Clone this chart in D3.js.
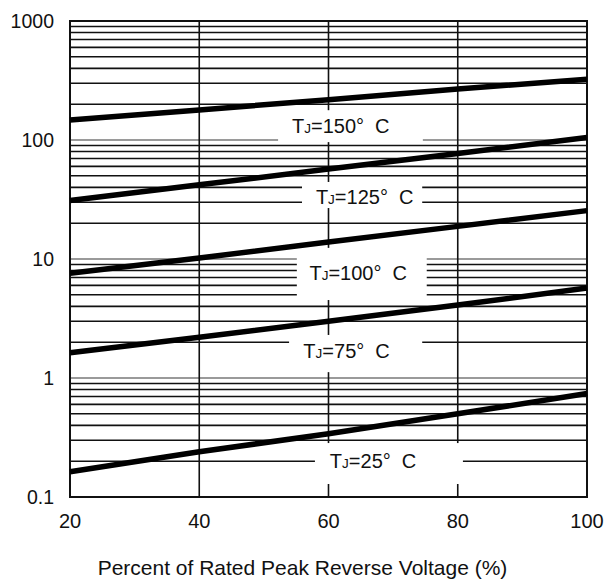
<!DOCTYPE html>
<html>
<head>
<meta charset="utf-8">
<script src="https://cdn.jsdelivr.net/npm/d3@7"></script>
<style>
  body { margin: 0; background: #fff; }
  text { font-family: "Liberation Sans", Arial, sans-serif; fill: #111; }
</style>
</head>
<body>
<script>
// percent of rated peak reverse voltage
const voltagePct = [20, 40, 60, 80, 100];

// reverse current, one series per junction temperature
const tj150 = [147, 179, 218, 268, 324];
const tj125 = [31, 42, 57, 77, 105];
const tj100 = [7.6, 10.2, 13.9, 18.8, 25.5];
const tj75  = [1.63, 2.2, 3.0, 4.1, 5.7];
const tj25  = [0.163, 0.24, 0.34, 0.5, 0.74];

const seriesList = [tj150, tj125, tj100, tj75, tj25];
const tempLabels = ["150", "125", "100", "75", "25"];

// where each label sits (x in %, y in value) and the white box behind it
const labelAtX = [61.9, 65.6, 64.6, 62.8, 66.9];
const labelAtY = [131, 33.4, 7.6, 1.69, 0.2];
const boxX0 = [52.2, 55.9, 55.1, 53.9, 57.9];
const boxX1 = [74.6, 74.5, 75.2, 74.5, 80.8];
const boxYTop = [178, 44.4, 12.4, 2.3, 0.284];
const boxYBot = [96, 26.8, 4.52, 1.12, 0.1286];

const xTicks = [20, 40, 60, 80, 100];
const yTicks = [0.1, 1, 10, 100, 1000];
const xTitle = "Percent of Rated Peak Reverse Voltage (%)";

function drawChart() {
    const width = 612;
    const height = 582;
    const left = 70, right = 587, top = 21, bottom = 497;

    const x = d3.scaleLinear().domain([20, 100]).range([left, right]);
    const y = d3.scaleLog().domain([0.1, 1000]).range([bottom, top]);

    const svg = d3.select("body").append("svg")
        .attr("width", width)
        .attr("height", height);

    // horizontal grid: every 1..9 step in each decade, decades in gray
    const gridVals = y.ticks().filter(v => v > 0.1 && v < 1000);
    const isDecade = v => Math.abs(Math.log10(v) - Math.round(Math.log10(v))) < 1e-9;

    svg.append("g")
        .selectAll("line")
        .data(gridVals)
        .join("line")
            .attr("x1", left)
            .attr("x2", right)
            .attr("y1", d => y(d))
            .attr("y2", d => y(d))
            .attr("stroke", d => isDecade(d) ? "#9a9a9a" : "#111")
            .attr("stroke-width", d => isDecade(d) ? 2 : 1.6);

    // vertical grid
    svg.append("g")
        .selectAll("line")
        .data(xTicks.slice(1, -1))
        .join("line")
            .attr("x1", d => x(d))
            .attr("x2", d => x(d))
            .attr("y1", top)
            .attr("y2", bottom)
            .attr("stroke", "#111")
            .attr("stroke-width", 1.6);

    // white boxes behind the temperature labels
    svg.append("g")
        .selectAll("rect")
        .data(tempLabels)
        .join("rect")
            .attr("x", (_, i) => x(boxX0[i]))
            .attr("width", (_, i) => x(boxX1[i]) - x(boxX0[i]))
            .attr("y", (_, i) => y(boxYTop[i]))
            .attr("height", (_, i) => y(boxYBot[i]) - y(boxYTop[i]))
            .attr("fill", "#fff");

    // frame
    svg.append("rect")
        .attr("x", left)
        .attr("y", top)
        .attr("width", right - left)
        .attr("height", bottom - top)
        .attr("fill", "none")
        .attr("stroke", "#111")
        .attr("stroke-width", 2);

    // the curves
    const line = d3.line()
        .x((_, i) => x(voltagePct[i]))
        .y(d => y(d));

    svg.append("g")
        .selectAll("path")
        .data(seriesList)
        .join("path")
            .attr("d", line)
            .attr("fill", "none")
            .attr("stroke", "#000")
            .attr("stroke-width", 5.5);

    // labels: T, small J, then the rest
    const lab = svg.append("g")
        .selectAll("text")
        .data(tempLabels)
        .join("text")
            .attr("x", (_, i) => x(labelAtX[i]))
            .attr("y", (_, i) => y(labelAtY[i]))
            .attr("dy", "0.36em")
            .attr("text-anchor", "middle")
            .attr("font-size", 20)
            .style("white-space", "pre");

    lab.append("tspan").text("T");
    lab.append("tspan").attr("font-size", 13.5).text("J");
    lab.append("tspan").text(d => `=${d}°  C`);

    // y tick labels
    svg.append("g")
        .selectAll("text")
        .data(yTicks)
        .join("text")
            .attr("x", left - 16)
            .attr("y", d => y(d))
            .attr("dy", "0.36em")
            .attr("text-anchor", "end")
            .attr("font-size", 19.5)
            .text(d => d3.format("~g")(d));

    // x tick labels
    svg.append("g")
        .selectAll("text")
        .data(xTicks)
        .join("text")
            .attr("x", d => x(d))
            .attr("y", bottom + 24)
            .attr("dy", "0.36em")
            .attr("text-anchor", "middle")
            .attr("font-size", 20)
            .text(d => d);

    svg.append("text")
        .attr("x", 302.5)
        .attr("y", 575)
        .attr("text-anchor", "middle")
        .attr("font-size", 21)
        .text(xTitle);
}

drawChart();
</script>
</body>
</html>
